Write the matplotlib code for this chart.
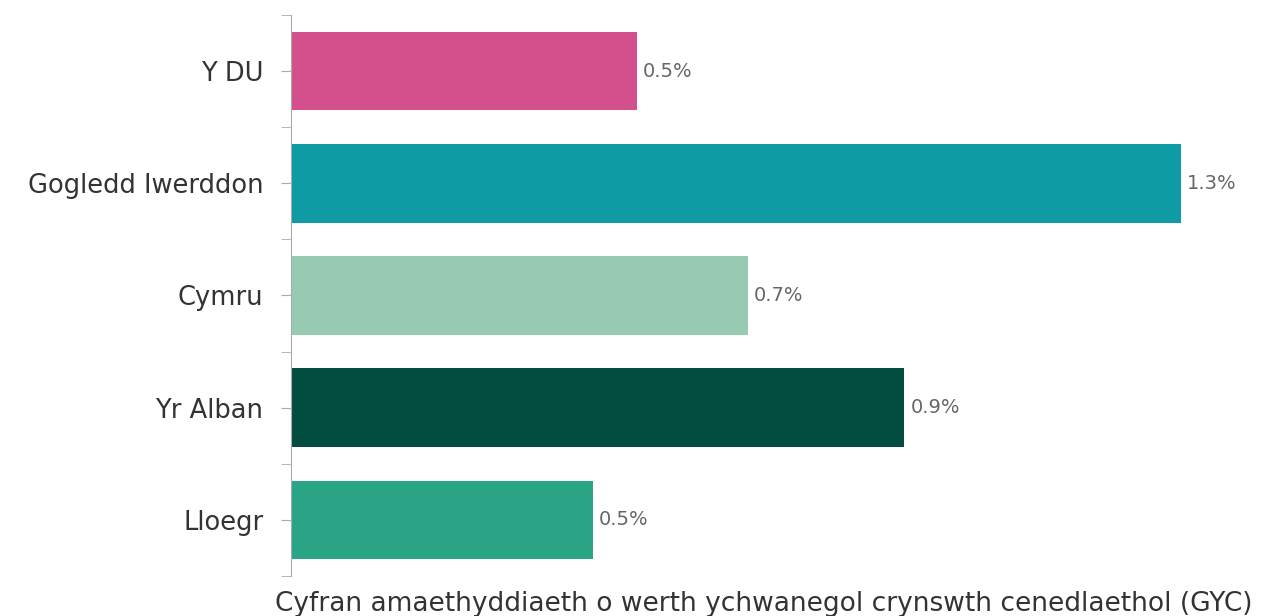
import matplotlib.pyplot as plt

# data
categories = ["Y DU", "Gogledd Iwerddon", "Cymru", "Yr Alban", "Lloegr"]
values = [0.505, 1.30, 0.667, 0.896, 0.441]
value_labels = ["0.5%", "1.3%", "0.7%", "0.9%", "0.5%"]
colors = ["#D4508C", "#0E9BA4", "#98C9B3", "#024C40", "#2BA385"]
xlabel = "Cyfran amaethyddiaeth o werth ychwanegol crynswth cenedlaethol (GYC)"

plt.rcParams['font.family'] = ['DejaVu Sans']

fig = plt.figure(figsize=(12.67, 6.16), dpi=100)
ax = fig.add_axes([0.2297, 0.065, 0.746, 0.9106])

pos = list(range(len(categories)))
ax.barh(pos, values, height=0.7, color=colors)
for p, v, lab in zip(pos, values, value_labels):
    ax.text(v + 0.009, p, lab, va='center', ha='left', fontsize=14, color='#666666')

ax.set_ylim(len(categories) - 0.5, -0.5)
ax.set_xlim(0, 1.381)
ax.set_yticks(pos)
ax.set_yticklabels(categories, fontsize=18.5, color='#333333')
ax.set_yticks([p - 0.5 for p in pos] + [len(categories) - 0.5], minor=True)
ax.tick_params(axis='y', which='both', length=7, color='#aaaaaa', pad=13)
ax.set_xticks([])
ax.set_xlabel(xlabel, fontsize=19, color='#333333', labelpad=11)

for s in ['top', 'right', 'bottom']:
    ax.spines[s].set_visible(False)
ax.spines['left'].set_color('#aaaaaa')

fig.savefig("out.png", dpi=100)
